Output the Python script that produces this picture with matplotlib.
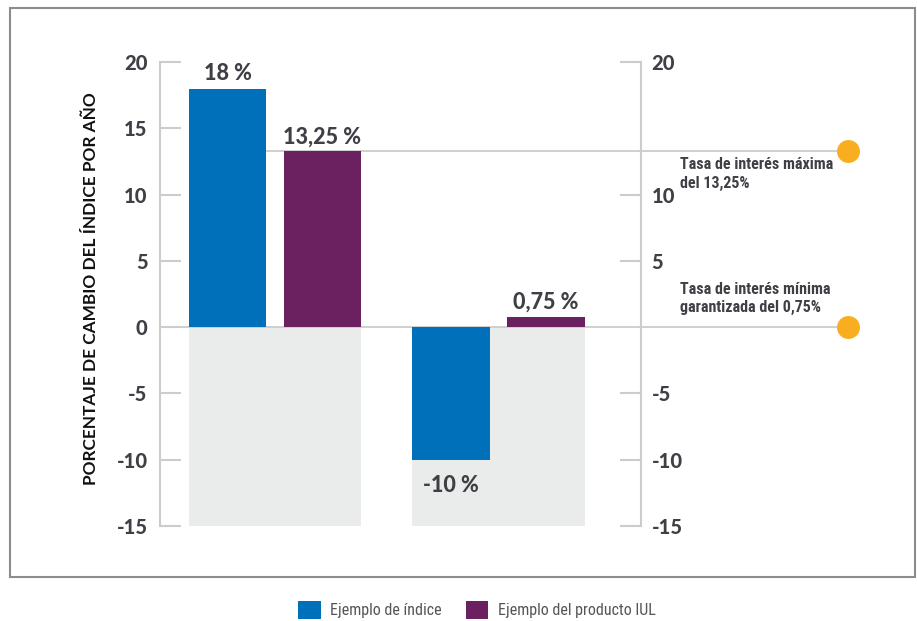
import os
import matplotlib
matplotlib.use("Agg")
import matplotlib.pyplot as plt
from matplotlib import font_manager
from matplotlib.font_manager import FontProperties
from matplotlib.patches import Patch, Rectangle
from matplotlib.transforms import blended_transform_factory

# ---------------- data ----------------
groups = ["Año 1", "Año 2"]
index_values = [18, -10]
iul_values = [13.25, 0.75]
index_labels = ["18 %", "-10 %"]
iul_labels = ["13,25 %", "0,75 %"]
cap_rate = 13.25
floor_rate = 0.0
left_ticks = [20, 15, 10, 5, 0, -5, -10, -15]
right_ticks = [20, 10, 5, -5, -10, -15]
y_min, y_max = -15, 20
series_names = ["Ejemplo de índice", "Ejemplo del producto IUL"]
cap_text = "Tasa de interés máxima\ndel 13,25%"
floor_text = "Tasa de interés mínima\ngarantizada del 0,75%"
ylabel_text = "PORCENTAJE DE CAMBIO DEL ÍNDICE POR AÑO"

# ---------------- fonts ----------------
def find_file(stems):
    files = [f.fname for f in font_manager.fontManager.ttflist]
    for stem in stems:
        for fn in files:
            b = os.path.basename(fn).lower()
            if b.startswith(stem.lower()) and "italic" not in b:
                return fn
    return None

bold_file = find_file(["Lato-Bold.", "Lato-Bold", "OpenSans-Bold.", "Roboto-Bold.", "DejaVuSans-Bold."])
heavy_file = find_file(["Lato-Black.", "Lato-Heavy.", "Lato-ExtraBold.", "OpenSans-ExtraBold.",
                        "Lato-Bold.", "Roboto-Black.", "DejaVuSans-Bold."])
narrow_bold_file = find_file(["LiberationSansNarrow-Bold.", "RobotoCondensed-Bold.", "Roboto-Bold."])
narrow_file = find_file(["LiberationSansNarrow-Regular.", "RobotoCondensed-Regular.", "Roboto-Regular."])

def fp(path, size, fallback_weight="bold"):
    if path:
        return FontProperties(fname=path, size=size)
    return FontProperties(family="DejaVu Sans", weight=fallback_weight, size=size)

BLUE = "#0070BA"
PURPLE = "#6B2060"
ORANGE = "#F9AE1F"
GRAYFILL = "#EAEBEB"
AXCOL = "#CCCCCC"
TXT = "#3F4045"

W, H = 917, 621
fig = plt.figure(figsize=(W / 100, H / 100), dpi=100)
ax_l, ax_r, ax_t, ax_b = 160, 641, 62, 526
ax = fig.add_axes([ax_l / W, 1 - ax_b / H, (ax_r - ax_l) / W, (ax_b - ax_t) / H])

# geometry (positions, not data)
centers = [0.0, 1.0]
bw = 0.345
off = 0.2125
fillhalf = 0.385
xmin, xmax = -0.5145, 1.6376
ax.set_xlim(xmin, xmax)
ax.set_ylim(y_min, y_max)

# gray negative zone behind each group
for c in centers:
    ax.bar(c, y_min, width=2 * fillhalf, bottom=0, color=GRAYFILL, zorder=0, linewidth=0)

# bars
xb = [c - off for c in centers]
xp = [c + off for c in centers]
ax.bar(xb, index_values, width=bw, color=BLUE, zorder=3, linewidth=0)
ax.bar(xp, iul_values, width=bw, color=PURPLE, zorder=3, linewidth=0)

# reference lines and dots
circ_x = xmin + 1.43 * (xmax - xmin)
ax.plot([xmin, circ_x], [floor_rate, floor_rate], color=AXCOL, lw=1.3, zorder=2, clip_on=False)
ax.plot([xb[0], circ_x], [cap_rate, cap_rate], color=AXCOL, lw=1.3, zorder=2, clip_on=False)
ax.plot([circ_x, circ_x], [cap_rate, floor_rate], ls="none", marker="o", ms=15.5,
        color=ORANGE, zorder=5, clip_on=False)

# value labels
lab_fp = fp(heavy_file, 15.5)
for x, v, t in zip(xb, index_values, index_labels):
    if v >= 0:
        ax.annotate(t, (x, v), xytext=(0, 3), textcoords="offset points", va="bottom",
                    ha="center", color=TXT, fontproperties=lab_fp)
    else:
        ax.annotate(t, (x, v), xytext=(0, -11), textcoords="offset points", va="top",
                    ha="center", color=TXT, fontproperties=lab_fp)
for x, v, t in zip(xp, iul_values, iul_labels):
    ax.annotate(t, (x, v), xytext=(0, 3), textcoords="offset points", va="bottom",
                ha="center", color=TXT, fontproperties=lab_fp)

# annotations for cap / floor
ann_x = xmin + ((680 - ax_l) / (ax_r - ax_l)) * (xmax - xmin)
ann_fp = fp(narrow_bold_file, 11.5)
ax.text(ann_x, cap_rate - 0.45, cap_text, va="top", ha="left", color=TXT, linespacing=1.28,
        fontproperties=ann_fp, clip_on=False)
ax.text(ann_x, floor_rate + 0.9, floor_text, va="bottom", ha="left", color=TXT, linespacing=1.28,
        fontproperties=ann_fp, clip_on=False)

# axes styling
for s in ["top", "bottom"]:
    ax.spines[s].set_visible(False)
ax.spines["left"].set_color(AXCOL)
ax.spines["left"].set_linewidth(1.5)
ax.spines["right"].set_visible(False)
ax.set_xticks([])
ax.set_yticks(left_ticks)
ax.set_yticklabels([])
ax.tick_params(axis="y", direction="in", length=15, width=1.5, color=AXCOL)

ax2 = ax.twinx()
ax2.set_ylim(y_min, y_max)
for s in ["top", "bottom", "left"]:
    ax2.spines[s].set_visible(False)
ax2.spines["right"].set_color(AXCOL)
ax2.spines["right"].set_linewidth(1.5)
ax2.set_yticks(right_ticks)
ax2.set_yticklabels([])
ax2.tick_params(axis="y", direction="in", length=15, width=1.5, color=AXCOL)

# tick labels drawn as text at the tick values (to control the heavy font reliably)
tick_fp = fp(heavy_file, 14.5)
tr = blended_transform_factory(ax.transAxes, ax.transData)
for t in left_ticks:
    ax.annotate(str(t), (0, t), xycoords=tr, xytext=(-9, 0), textcoords="offset points",
                ha="right", va="center_baseline", color=TXT, fontproperties=tick_fp,
                annotation_clip=False)
for t in right_ticks:
    ax.annotate(str(t), (1, t), xycoords=tr, xytext=(7.5, 0), textcoords="offset points",
                ha="left", va="center_baseline", color=TXT, fontproperties=tick_fp,
                annotation_clip=False)

# y label
fig.text(91 / W, 1 - 289 / H, ylabel_text, rotation=90, ha="center", va="center",
         color="#111111", fontproperties=fp(bold_file, 12.4))

# frame around chart
fig.patches.append(Rectangle((10 / W, 1 - 577 / H), (915 - 10) / W, (577 - 8) / H,
                             transform=fig.transFigure, fill=False, edgecolor="#8C8C8C",
                             linewidth=1.5))

# legend
handles = [Patch(facecolor=BLUE, edgecolor="none"), Patch(facecolor=PURPLE, edgecolor="none")]
leg = fig.legend(handles, series_names, loc="center", bbox_to_anchor=(477 / W, 1 - 610 / H),
                 ncol=2, frameon=False, handlelength=1.4, handleheight=1.4, handletextpad=0.6,
                 columnspacing=1.5, borderpad=0,
                 prop=fp(narrow_file, 11.5, fallback_weight="normal"))
for t in leg.get_texts():
    t.set_color("#555555")

fig.savefig("out.png", dpi=100)
